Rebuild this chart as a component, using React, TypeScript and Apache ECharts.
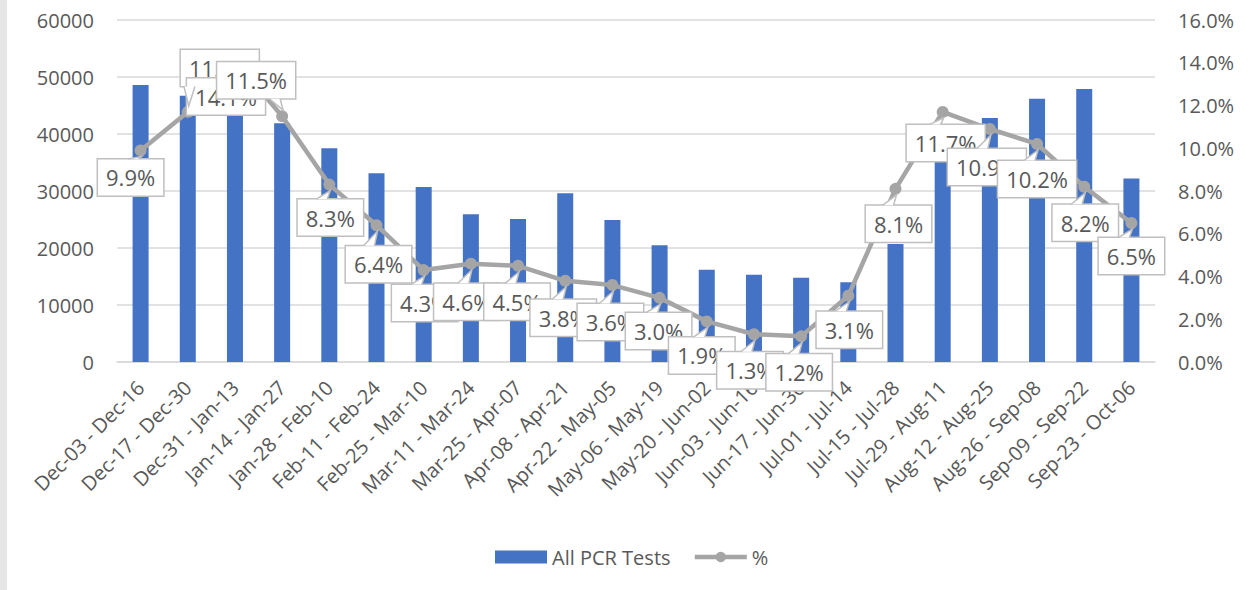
import React, { useEffect, useRef } from "react";
import * as echarts from "echarts";

const categories = [
  "Dec-03 - Dec-16", "Dec-17 - Dec-30", "Dec-31 - Jan-13", "Jan-14 - Jan-27",
  "Jan-28 - Feb-10", "Feb-11 - Feb-24", "Feb-25 - Mar-10", "Mar-11 - Mar-24",
  "Mar-25 - Apr-07", "Apr-08 - Apr-21", "Apr-22 - May-05", "May-06 - May-19",
  "May-20 - Jun-02", "Jun-03 - Jun-16", "Jun-17 - Jun-30", "Jul-01 - Jul-14",
  "Jul-15 - Jul-28", "Jul-29 - Aug-11", "Aug-12 - Aug-25", "Aug-26 - Sep-08",
  "Sep-09 - Sep-22", "Sep-23 - Oct-06",
];

const pcrTests = [
  48600, 46700, 44500, 41900, 37500, 33100, 30700, 25900, 25100, 29600, 24900,
  20500, 16200, 15300, 14800, 14000, 20700, 37000, 42800, 46200, 47900, 32200,
];

const positivity = [
  9.9, 11.7, 14.1, 11.5, 8.3, 6.4, 4.3, 4.6, 4.5, 3.8, 3.6, 3.0, 1.9, 1.3, 1.2,
  3.1, 8.1, 11.7, 10.9, 10.2, 8.2, 6.5,
];

const leftTicks = { min: 0, max: 60000, interval: 10000 };
const rightTicks = { min: 0, max: 16, interval: 2 };

// label box offsets (px) relative to each point
const labelOffsets: [number, number][] = [
  [-10, 27], [32, -44], [-9, 36], [-26, -36], [1, 33], [2, 39], [1, 33],
  [-4, 38], [-1, 36], [-2, 37], [-2, 37], [-1, 33], [-5, 34], [-4, 36],
  [-2, 36], [1, 34], [3, 35], [3, 31], [-3, 38], [0, 35], [1, 36], [0, 33],
];
// callout pointers that are covered by a later label in the reference
const hiddenPointers = [2];

const FONT = "'Open Sans', sans-serif";
const TEXT = "#595959";
const LABEL_FONT = 22;
const BOX_HALF_H = 18.5;

export default function App() {
  const ref = useRef<HTMLDivElement>(null);
  useEffect(() => {
    if (!ref.current) return;
    const chart = echarts.init(ref.current, undefined, { renderer: "svg" });
    const strip = {
      id: "strip",
      type: "rect",
      left: 0,
      top: 0,
      shape: { width: 7, height: 590 },
      style: { fill: "#e6e6e6" },
      silent: true,
    };
    chart.setOption({
      animation: false,
      backgroundColor: "#ffffff",
      textStyle: { fontFamily: FONT },
      grid: { left: 117, right: 94, top: 20, bottom: 228, containLabel: false },
      graphic: [strip],
      legend: {
        left: 490,
        top: 542,
        itemWidth: 52,
        itemHeight: 13,
        itemGap: 22,
        textStyle: { fontSize: 20, color: TEXT, fontFamily: FONT },
        data: [
          { name: "All PCR Tests", icon: "rect" },
          { name: "%", lineStyle: { width: 4.5, color: "#a5a5a5" } },
        ],
      },
      xAxis: {
        type: "category",
        data: categories,
        axisLine: { lineStyle: { color: "#d9d9d9", width: 1.5 } },
        axisTick: { show: false },
        axisLabel: {
          rotate: 45,
          fontSize: 20,
          color: TEXT,
          fontFamily: FONT,
          interval: 0,
          margin: 22,
        },
      },
      yAxis: [
        {
          type: "value",
          min: leftTicks.min,
          max: leftTicks.max,
          interval: leftTicks.interval,
          axisLine: { show: false },
          axisTick: { show: false },
          axisLabel: {
            fontSize: 20,
            color: TEXT,
            fontFamily: FONT,
            margin: 23,
            formatter: (v: number) => String(v),
          },
          splitLine: { lineStyle: { color: "#d9d9d9", width: 1.5 } },
        },
        {
          type: "value",
          min: rightTicks.min,
          max: rightTicks.max,
          interval: rightTicks.interval,
          axisLine: { show: false },
          axisTick: { show: false },
          axisLabel: {
            fontSize: 20,
            color: TEXT,
            fontFamily: FONT,
            margin: 23,
            formatter: (v: number) => v.toFixed(1) + "%",
          },
          splitLine: { show: false },
        },
      ],
      series: [
        {
          name: "All PCR Tests",
          type: "bar",
          yAxisIndex: 0,
          data: pcrTests,
          barWidth: 16,
          itemStyle: { color: "#4472c4" },
        },
        {
          name: "%",
          type: "line",
          yAxisIndex: 1,
          data: positivity,
          symbol: "circle",
          symbolSize: 12,
          lineStyle: { color: "#a5a5a5", width: 4.5 },
          itemStyle: { color: "#a5a5a5" },
          label: {
            show: true,
            position: "inside",
            formatter: (p: any) => Number(p.value).toFixed(1) + "%",
            fontSize: LABEL_FONT,
            color: TEXT,
            fontFamily: FONT,
            backgroundColor: "#ffffff",
            borderColor: "#bfbfbf",
            borderWidth: 1.5,
            padding: [5, 8, 5, 8],
            lineHeight: 26,
          },
          labelLayout: (params: any) => {
            const o = labelOffsets[params.dataIndex] || [0, 0];
            return { dx: o[0], dy: o[1], hideOverlap: false };
          },
          z: 3,
        },
      ],
    });

    // callout pointers, positioned from the data through the axes
    const pointers: any[] = [];
    positivity.forEach((v, i) => {
      if (hiddenPointers.indexOf(i) >= 0) return;
      const p = chart.convertToPixel({ xAxisIndex: 0, yAxisIndex: 1 }, [i, v]) as number[];
      if (!p) return;
      const [px, py] = p;
      const [dx, dy] = labelOffsets[i];
      const text = v.toFixed(1) + "%";
      let w = 70;
      try {
        w = (echarts.format as any).getTextRect(text, `${LABEL_FONT}px ${FONT}`).width + 16;
      } catch (e) {
        w = 70;
      }
      const cx = px + dx;
      const boxL = cx - w / 2 + 3;
      const boxR = cx + w / 2 - 3;
      const below = dy > 0;
      const edge = below ? py + dy - BOX_HALF_H : py + dy + BOX_HALF_H;
      let b1 = px - 13;
      let b2 = px - 2;
      if (b1 < boxL) { b1 = boxL; b2 = boxL + 11; }
      if (b2 > boxR) { b2 = boxR; b1 = boxR - 11; }
      const tip = [px + 1, below ? py + 6 : py - 6];
      pointers.push({
        type: "polygon",
        z: 100,
        silent: true,
        shape: { points: [[b1, edge], [b2, edge], tip] },
        style: { fill: "#ffffff", stroke: "none" },
      });
      pointers.push({
        type: "polyline",
        z: 101,
        silent: true,
        shape: { points: [[b1, edge], tip, [b2, edge]] },
        style: { stroke: "#bfbfbf", lineWidth: 1.5, fill: "none" },
      });
    });
    chart.setOption({ graphic: [strip, ...pointers] }, { replaceMerge: ["graphic"] });

    return () => chart.dispose();
  }, []);
  return (
    <div
      ref={ref}
      style={{ position: "fixed", left: 0, top: 0, width: 1249, height: 590 }}
    />
  );
}
